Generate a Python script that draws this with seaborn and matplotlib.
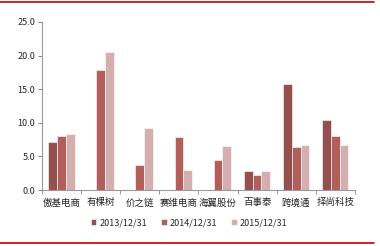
import numpy as np
import pandas as pd
import seaborn as sns
import matplotlib.pyplot as plt
from matplotlib.ticker import FixedLocator, NullFormatter

companies = ["傲基电商", "有棵树", "价之链", "赛维电商", "海翼股份", "百事泰", "跨境通", "择尚科技"]
dates = ["2013/12/31", "2014/12/31", "2015/12/31"]
v2013 = [7.1, 0, 0, 0, 0, 2.9, 15.8, 10.4]
v2014 = [8.1, 17.8, 3.7, 7.9, 4.5, 2.2, 6.4, 8.0]
v2015 = [8.4, 20.5, 9.3, 3.0, 6.5, 2.8, 6.7, 6.7]
colors = ["#A04343", "#C0504D", "#DCA8A8"]

df = pd.DataFrame({
    "公司": companies * 3,
    "日期": [d for d in dates for _ in companies],
    "值": v2013 + v2014 + v2015,
})

sns.set_style("white")
plt.rcParams["font.family"] = ["Noto Sans CJK SC", "DejaVu Sans"]

fig = plt.figure(figsize=(3.8, 2.46), dpi=100)
ax = fig.add_axes([0.1105, 0.2276, 0.8235, 0.683])
sns.barplot(data=df, x="公司", y="值", hue="日期", palette=colors,
            width=0.67, edgecolor="white", linewidth=0.4, ax=ax)

ax.set_xlim(-0.5, 7.5)
ax.set_ylim(0, 25)
ax.set_xticks(range(len(companies)))
ax.set_xticklabels(companies, fontsize=6.8)
ax.set_yticks([0, 5, 10, 15, 20, 25])
ax.set_yticklabels(["0.0", "5.0", "10.0", "15.0", "20.0", "25.0"], fontsize=6.5)
ax.tick_params(axis="x", which="major", length=0, pad=6)
ax.xaxis.set_minor_locator(FixedLocator(np.arange(-0.5, 8, 1)))
ax.xaxis.set_minor_formatter(NullFormatter())
ax.tick_params(axis="x", which="minor", length=3, color="#888888", direction="out", bottom=True)
ax.tick_params(axis="y", length=3, color="#888888", direction="out", left=True, pad=2)
ax.set_xlabel("")
ax.set_ylabel("")
for s in ["top", "right"]:
    ax.spines[s].set_visible(False)
for s in ["left", "bottom"]:
    ax.spines[s].set_color("#999999")
    ax.spines[s].set_linewidth(0.8)

leg = ax.legend(loc="center", bbox_to_anchor=(0.47, -0.195), ncol=3, frameon=False,
                fontsize=6.5, handlelength=0.6, handleheight=0.6, handletextpad=0.3,
                columnspacing=1.6)

# red rules top and bottom
fig.add_artist(plt.Line2D([0.0, 0.985], [0.992, 0.992], color="#C00000", lw=1.2))
fig.add_artist(plt.Line2D([0.0, 0.985], [0.013, 0.013], color="#C00000", lw=1.2))

fig.savefig("out.png", dpi=100)
